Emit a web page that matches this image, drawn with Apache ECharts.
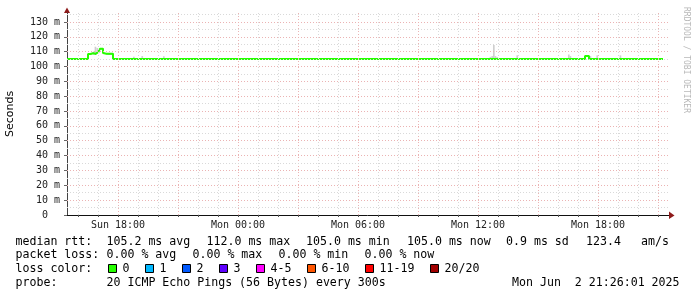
<!DOCTYPE html>
<html><head><meta charset="utf-8">
<script src="https://cdn.jsdelivr.net/npm/echarts@6/dist/echarts.min.js"></script>
<style>html,body{margin:0;padding:0;background:#fff}#c{width:697px;height:297px}</style>
</head><body><div id="c"></div>
<script>
// Time values are hours since Sun Jun 1 2025 00:00
const xStart = 15.45, xEnd = 45.5;
const medianTimes  = [15.45, 16.50, 16.62, 16.75, 16.88, 17.00, 17.10, 17.25, 17.33, 17.42, 17.50, 17.58, 17.67, 17.75, 41.35, 41.55, 45.25];
const medianValues = [105.0, 108.4, 108.9, 108.5, 109.6, 109.3, 112.0, 109.0, 108.6, 109.5, 108.5, 109.3, 108.6, 105.0, 107.0, 105.0, 105.0];
const smokeTimes = [16.75, 16.83, 16.92, 17.00, 18.75, 19.17, 20.25, 36.58, 36.67, 36.75, 36.83, 36.92, 37.92, 40.50, 40.58, 41.58, 41.92, 43.08];
const smokeLow   = [108.0, 108.0, 108.5, 109.0, 105.0, 105.0, 105.0, 105.0, 105.0, 105.0, 105.0, 105.0, 105.0, 105.0, 105.0, 105.0, 105.0, 105.0];
const smokeHigh  = [110.0, 113.3, 112.5, 111.0, 106.5, 107.0, 106.8, 106.5, 107.0, 114.5, 107.0, 106.3, 107.5, 108.0, 107.0, 107.0, 107.5, 107.5];
const xLabelHours = [18, 24, 30, 36, 42];
const yLabelValues = [0, 10, 20, 30, 40, 50, 60, 70, 80, 90, 100, 110, 120, 130];
const lossLabels = ['0', '1', '2', '3', '4-5', '6-10', '11-19', '20/20'];
const lossColors = ['#26ff00', '#00b8ff', '#0059ff', '#5e00ff', '#ff00ff', '#ff5500', '#ff0000', '#a10000'];
const rttStats = ['105.2 ms avg', '112.0 ms max', '105.0 ms min', '105.0 ms now', '0.9 ms sd', '123.4', 'am/s'];
const lossStats = ['0.00 % avg', '0.00 % max', '0.00 % min', '0.00 % now'];
const probeText = '20 ICMP Echo Pings (56 Bytes) every 300s';
const stampText = 'Mon Jun  2 21:26:01 2025';

const MONO = 'DejaVu Sans Mono';
const chart = echarts.init(document.getElementById('c'), null, {renderer: 'canvas'});

const medianData = medianTimes.map((t, i) => [t, medianValues[i]]);
const smokeData = smokeTimes.map((t, i) => [t, smokeLow[i], smokeHigh[i]]);

const MAJ = '#ebb3b3', MIN = '#d9d9d9';
const gridMarks = [];
for (let h = Math.ceil(xStart); h <= xEnd; h++) {
  const major = h % 3 === 0;
  gridMarks.push({xAxis: h, lineStyle: {color: major ? MAJ : MIN, type: [1, 2], width: 1}});
}
for (let v = 5; v <= 135; v += 5) {
  const major = v % 10 === 0;
  gridMarks.push({yAxis: v, lineStyle: {color: major ? MAJ : MIN, type: [1, 2], width: 1}});
}

const pad = n => (n < 10 ? '0' : '') + n;
const graphics = [];
const T = (text, x, y, extra) => graphics.push(Object.assign({type: 'text', x, y, silent: true,
  style: {text, font: '11.6px ' + MONO, fill: '#000', textVerticalAlign: 'middle'}}, extra || {}));

// Legend lines
const rttX = [106.5, 206.5, 306, 407, 506, 586, 641];
T('median rtt:', 15.5, 241.7);
rttStats.forEach((s, i) => T(s, rttX[i], 241.7));
const lossX = [106.5, 192.5, 278.5, 364.5];
T('packet loss:', 15.5, 255.2);
lossStats.forEach((s, i) => T(s, lossX[i], 255.2));
T('loss color:', 15.5, 269);
const boxX = [108.5, 145.5, 182.5, 219.5, 256.5, 307.5, 365.5, 430.5];
lossLabels.forEach((l, i) => {
  graphics.push({type: 'rect', silent: true, shape: {x: boxX[i], y: 264.5, width: 8, height: 8},
    style: {fill: lossColors[i], stroke: '#000', lineWidth: 1}});
  T(l, boxX[i] + 14, 269);
});
T('probe:', 15.5, 282.8);
T(probeText, 106.5, 282.8);
T(stampText, 512, 282.8);
// Axis title and credit
graphics.push({type: 'text', x: 10, y: 114, rotation: Math.PI / 2, silent: true,
  style: {text: 'Seconds', font: '11px "DejaVu Sans"', fill: '#000', textAlign: 'center', textVerticalAlign: 'middle'}});
graphics.push({type: 'text', x: 686, y: 60, rotation: -Math.PI / 2, silent: true,
  style: {text: 'RRDTOOL / TOBI OETIKER', font: '8px ' + MONO, fill: '#b8b8b8', textAlign: 'center', textVerticalAlign: 'middle'}});
// Axis arrows
graphics.push({type: 'polygon', silent: true, shape: {points: [[64, 13], [67, 7.5], [70, 13]]}, style: {fill: '#8e1a1a'}});
graphics.push({type: 'line', silent: true, shape: {x1: 668, y1: 215.5, x2: 670, y2: 215.5}, style: {stroke: '#111', lineWidth: 1}});
graphics.push({type: 'polygon', silent: true, shape: {points: [[669, 211.5], [674.5, 215.5], [669, 219]]}, style: {fill: '#8e1a1a'}});

chart.setOption({
  animation: false,
  backgroundColor: '#ffffff',
  grid: {left: 67, right: 29, top: 13, bottom: 82, containLabel: false},
  xAxis: {
    type: 'value', min: xStart, max: xEnd,
    axisLine: {show: true, lineStyle: {color: '#111', width: 1}},
    axisTick: {show: true, length: 2, customValues: gridMarks.filter(m => m.xAxis !== undefined).map(m => m.xAxis), lineStyle: {color: '#555'}},
    splitLine: {show: false},
    axisLabel: {customValues: xLabelHours, margin: 5, fontFamily: MONO, fontSize: 10, color: '#222',
      formatter: v => (v < 24 ? 'Sun ' : 'Mon ') + pad(Math.round(v) % 24) + ':00'}
  },
  yAxis: {
    type: 'value', min: 0, max: 136,
    axisLine: {show: true, onZero: false, lineStyle: {color: '#444', width: 1}},
    axisTick: {show: true, length: 3, customValues: yLabelValues, lineStyle: {color: '#666'}},
    splitLine: {show: false},
    axisLabel: {customValues: yLabelValues, margin: 7, fontFamily: MONO, fontSize: 10, color: '#222',
      formatter: v => v === 0 ? '0  ' : v + ' m'}
  },
  series: [
    {type: 'line', data: medianData, z: 1, silent: true, showSymbol: false, lineStyle: {opacity: 0},
      markLine: {silent: true, symbol: 'none', animation: false, label: {show: false}, emphasis: {disabled: true}, data: gridMarks}},
    {type: 'custom', z: 2, silent: true, data: smokeData,
      renderItem: (params, api) => {
        const t = api.value(0), lo = api.value(1), hi = api.value(2);
        const p0 = api.coord([t, hi]);
        const p1 = api.coord([t + 1 / 12, lo]);
        return {type: 'rect', shape: {x: p0[0], y: p0[1], width: Math.max(1, p1[0] - p0[0]), height: p1[1] - p0[1]},
          style: {fill: '#cfcfcf'}};
      }},
    {type: 'line', data: medianData, step: 'end', z: 3, silent: true, showSymbol: false,
      lineStyle: {color: '#000', width: 1}},
    {type: 'line', data: medianData, step: 'end', z: 4, silent: true, showSymbol: false,
      lineStyle: {color: '#26ff00', width: 2}}
  ],
  graphic: graphics
});
</script></body></html>
